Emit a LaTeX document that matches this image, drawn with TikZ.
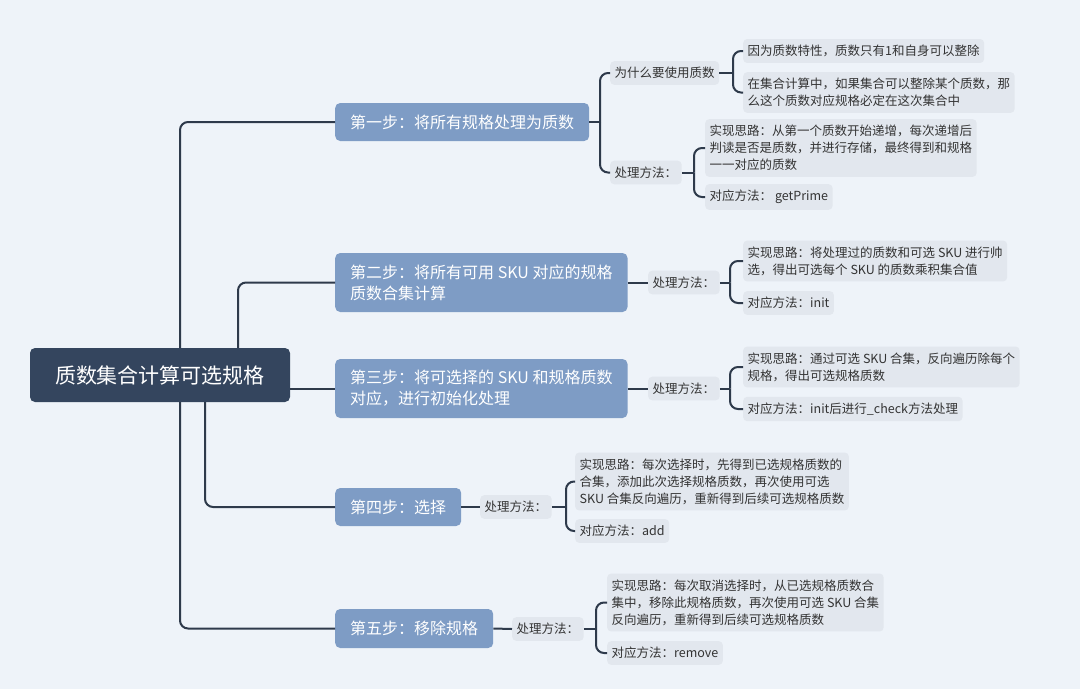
\documentclass[tikz,border=0pt]{standalone}
\usepackage{fontspec}
\setmainfont{Noto Sans CJK SC}
\definecolor{bg}{HTML}{EEF3F9}
\definecolor{rootc}{HTML}{34455E}
\definecolor{stepc}{HTML}{7E9CC5}
\definecolor{leafc}{HTML}{E2E7EE}
\definecolor{linec}{HTML}{2E3A4B}
\definecolor{txt}{HTML}{333333}
\tikzset{
  rootbox/.style={fill=rootc,text=white,rounded corners=5pt,minimum width=260pt,minimum height=54pt,font=\fontsize{21}{26}\selectfont},
  stepbox/.style={fill=stepc,text=white,rounded corners=5pt,anchor=west,align=left,inner xsep=15pt,font=\fontsize{16}{21}\selectfont},
  leaf/.style={fill=leafc,text=txt,rounded corners=4pt,anchor=west,align=left,inner xsep=4.5pt,inner ysep=6pt,font=\fontsize{12.5}{17}\selectfont},
  conn/.style={draw=linec,line width=2pt,rounded corners=8pt},
}
\begin{document}
\begin{tikzpicture}[x=1pt,y=-1pt]
\fill[bg] (0,0) rectangle (1080,689);
\useasboundingbox (0,0) rectangle (1080,689);
% root and steps
\node[rootbox] (root) at (160,375) {质数集合计算可选规格};
\node[stepbox,minimum height=38pt] (s1) at (335,122) {第一步：将所有规格处理为质数};
\node[stepbox,minimum height=59pt] (s2) at (335,282.5) {第二步：将所有可用 SKU 对应的规格\\质数合集计算};
\node[stepbox,minimum height=59pt] (s3) at (335,388.5) {第三步：将可选择的 SKU 和规格质数\\对应，进行初始化处理};
\node[stepbox,minimum height=38pt] (s4) at (335,507) {第四步：选择};
\node[stepbox,minimum height=39pt] (s5) at (335,628.5) {第五步：移除规格};
% step 1 children
\node[leaf] (a1) at (610,73) {为什么要使用质数};
\node[leaf] (a1a) at (743,51) {因为质数特性，质数只有1和自身可以整除};
\node[leaf] (a1b) at (743,92.5) {在集合计算中，如果集合可以整除某个质数，那\\么这个质数对应规格必定在这次集合中};
\node[leaf] (a2) at (610,172.5) {处理方法：};
\node[leaf] (a2a) at (705,148) {实现思路：从第一个质数开始递增，每次递增后\\判读是否是质数，并进行存储，最终得到和规格\\一一对应的质数};
\node[leaf] (a2b) at (705,197) {对应方法： getPrime};
% step 2
\node[leaf] (b) at (648,282.5) {处理方法：};
\node[leaf] (b1) at (743,261) {实现思路：将处理过的质数和可选 SKU 进行帅\\选，得出可选每个 SKU 的质数乘积集合值};
\node[leaf] (b2) at (743,303) {对应方法：init};
% step 3
\node[leaf] (c) at (648,388.5) {处理方法：};
\node[leaf] (c1) at (743,367) {实现思路：通过可选 SKU 合集，反向遍历除每个\\规格，得出可选规格质数};
\node[leaf] (c2) at (743,409) {对应方法：init后进行\_check方法处理};
% step 4
\node[leaf] (d) at (480,507) {处理方法：};
\node[leaf] (d1) at (575,481.5) {实现思路：每次选择时，先得到已选规格质数的\\合集，添加此次选择规格质数，再次使用可选\\SKU 合集反向遍历，重新得到后续可选规格质数};
\node[leaf] (d2) at (575,531) {对应方法：add};
% step 5
\node[leaf] (e) at (512,629) {处理方法：};
\node[leaf] (e1) at (607,602.5) {实现思路：每次取消选择时，从已选规格质数合\\集中，移除此规格质数，再次使用可选 SKU 合集\\反向遍历，重新得到后续可选规格质数};
\node[leaf] (e2) at (607,653) {对应方法：remove};
% trunk connectors
\draw[conn] ([xshift=20pt]root.north) |- (s1.west);
\draw[conn] ([xshift=78pt]root.north) |- (s2.west);
\draw[conn] (root.east |- s3.west) -- (s3.west);
\draw[conn] ([xshift=45pt]root.south) |- (s4.west);
\draw[conn] ([xshift=20pt]root.south) |- (s5.west);
% bracket points
\coordinate (ka) at (600,122);
\coordinate (ka1) at (733,73);
\coordinate (ka2) at (694,172.5);
\coordinate (kb) at (730,282.5);
\coordinate (kc) at (730,388.5);
\coordinate (kd) at (566,507);
\coordinate (ke) at (596,629);
\draw[conn] (s1.east) -- (ka);
\draw[conn] (ka) |- (a1.west);
\draw[conn] (ka) |- (a2.west);
\draw[conn] (a1.east) -- (ka1);
\draw[conn] (ka1) |- (a1a.west);
\draw[conn] (ka1) |- (a1b.west);
\draw[conn] (a2.east) -- (ka2);
\draw[conn] (ka2) |- (a2a.west);
\draw[conn] (ka2) |- (a2b.west);
\draw[conn] (s2.east) -- (b.west);
\draw[conn] (b.east) -- (kb);
\draw[conn] (kb) |- (b1.west);
\draw[conn] (kb) |- (b2.west);
\draw[conn] (s3.east) -- (c.west);
\draw[conn] (c.east) -- (kc);
\draw[conn] (kc) |- (c1.west);
\draw[conn] (kc) |- (c2.west);
\draw[conn] (s4.east) -- (d.west);
\draw[conn] (d.east) -- (kd);
\draw[conn] (kd) |- (d1.west);
\draw[conn] (kd) |- (d2.west);
\draw[conn] (s5.east) -- (e.west);
\draw[conn] (e.east) -- (ke);
\draw[conn] (ke) |- (e1.west);
\draw[conn] (ke) |- (e2.west);
\end{tikzpicture}
\end{document}
